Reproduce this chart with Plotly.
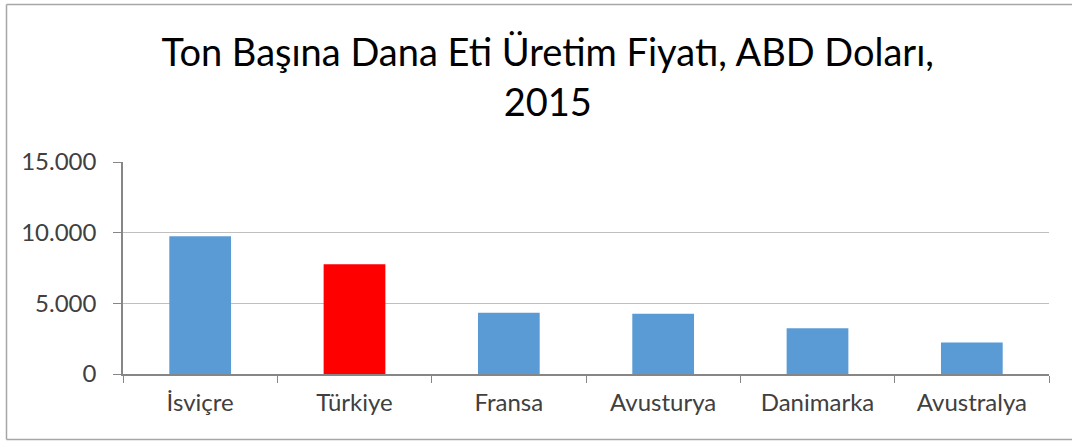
import plotly.graph_objects as go

categories = ["İsviçre", "Türkiye", "Fransa", "Avusturya", "Danimarka", "Avustralya"]
values = [9750, 7760, 4330, 4260, 3240, 2220]
colors = ["#5b9bd5", "#ff0000", "#5b9bd5", "#5b9bd5", "#5b9bd5", "#5b9bd5"]
y_ticks = [0, 5000, 10000, 15000]

W, H = 1072, 441
L, R, T, B = 123, 23, 162, 67
pw, ph = W - L - R, H - T - B


def px(x):
    return (x - L) / pw


def py(y):
    return (H - B - y) / ph


fig = go.Figure(go.Bar(x=categories, y=values, marker=dict(color=colors, line=dict(width=0))))

border = dict(color="#a6a6a6", width=1.5)
fig.update_layout(
    width=W, height=H,
    margin=dict(l=L, r=R, t=T, b=B, autoexpand=False),
    paper_bgcolor="white", plot_bgcolor="white",
    separators=",.",
    bargap=0.6,
    showlegend=False,
    font=dict(family="Lato, Open Sans, sans-serif", color="#404040", size=24),
    title=dict(text="Ton Başına Dana Eti Üretim Fiyatı, ABD Doları,<br>2015",
               x=0.511, xref="container", xanchor="center",
               y=0.85, yref="container", yanchor="middle",
               font=dict(size=38, color="#000000", family="Lato, Open Sans, sans-serif")),
    xaxis=dict(showline=True, linecolor="#868686", linewidth=1.5,
               ticks="outside", tickson="boundaries", ticklen=7, tickcolor="#868686",
               tickfont=dict(size=24, color="#404040"), showgrid=False,
               ticklabelstandoff=6),
    yaxis=dict(range=[0, 15000], tickvals=y_ticks, tickformat=",.0f",
               showline=True, linecolor="#868686", linewidth=1.5,
               ticks="outside", ticklen=8, tickcolor="#868686",
               showgrid=True, gridcolor="#bfbfbf", gridwidth=1,
               zeroline=False, tickfont=dict(size=24, color="#404040"),
               ticklabelstandoff=12),
    shapes=[
        dict(type="line", xref="paper", yref="paper",
             x0=px(6.5), x1=px(W + 5), y0=py(4.5), y1=py(4.5), line=border),
        dict(type="line", xref="paper", yref="paper",
             x0=px(6.5), x1=px(6.5), y0=py(4.5), y1=py(439.5), line=border),
        dict(type="line", xref="paper", yref="paper",
             x0=px(6.5), x1=px(W + 5), y0=py(439.5), y1=py(439.5), line=border),
    ],
)

fig.write_html("out.html", config={"displayModeBar": False},
               post_script="document.body.style.margin='0';")
